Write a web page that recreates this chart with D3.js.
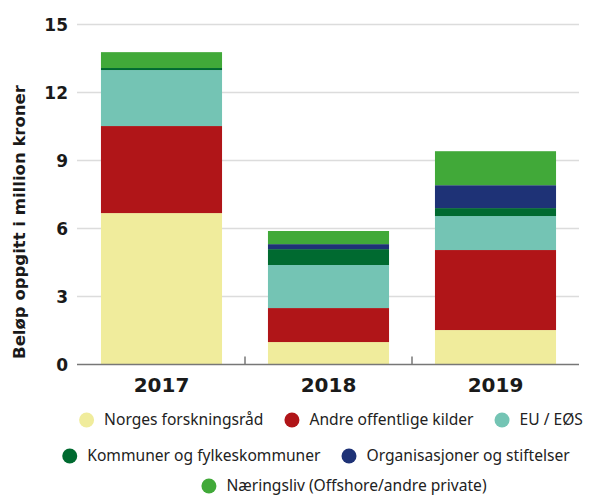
<!DOCTYPE html>
<html>
<head>
<meta charset="utf-8">
<script src="https://cdn.jsdelivr.net/npm/d3@7"></script>
<style>
  body { margin: 0; background: #fff; }
  text { font-family: "Noto Sans", "Open Sans", sans-serif; }
  .bold { font-family: "DejaVu Sans", "Noto Sans", sans-serif; font-weight: bold; }
</style>
</head>
<body>
<div id="chart"></div>
<script>
var years = ["2017", "2018", "2019"];
var seriesNames = ["Norges forskningsråd", "Andre offentlige kilder", "EU / EØS",
                   "Kommuner og fylkeskommuner", "Organisasjoner og stiftelser",
                   "Næringsliv (Offshore/andre private)"];
var forskningsraad = [6.68, 0.99, 1.52];
var offentlige     = [3.84, 1.50, 3.53];
var euEos          = [2.47, 1.90, 1.50];
var kommuner       = [0.09, 0.70, 0.35];
var organisasjoner = [0.00, 0.22, 1.01];
var naeringsliv    = [0.70, 0.58, 1.50];
var yTicks = [0, 3, 6, 9, 12, 15];
var colors = ["#f0ec9c", "#b01518", "#74c4b4", "#006a30", "#1e3276", "#41a939"];

var allSeries = [forskningsraad, offentlige, euEos, kommuner, organisasjoner, naeringsliv];

var width = 590, height = 497,
    margin = {top: 24.5, left: 77, bottom: 132.5, right: 11};

var svg = d3.select("#chart").append("svg")
    .attr("width", width)
    .attr("height", height);

var rows = years.map(function (y, i) {
    var r = {year: y};
    seriesNames.forEach(function (s, j) { r[s] = allSeries[j][i]; });
    return r;
});
var stacked = d3.stack().keys(seriesNames)(rows);

var x = d3.scaleBand()
    .domain(years)
    .range([margin.left + 1, width - margin.right])
    .paddingInner(0.275)
    .paddingOuter(0.1375);

var y = d3.scaleLinear()
    .domain([0, 15])
    .range([height - margin.bottom, margin.top]);

// gridlines
svg.selectAll(".grid")
    .data(yTicks.slice(1))
    .enter()
    .append("line")
    .attr("x1", margin.left)
    .attr("x2", width - margin.right)
    .attr("y1", function (d) { return y(d); })
    .attr("y2", function (d) { return y(d); })
    .attr("stroke", "#dcdcdc")
    .attr("stroke-width", 1.5);

// bars
svg.selectAll(".layer")
    .data(stacked)
    .enter()
    .append("g")
    .attr("fill", function (d, i) { return colors[i]; })
    .selectAll("rect")
    .data(function (d) { return d; })
    .enter()
    .append("rect")
    .attr("x", function (d) { return x(d.data.year); })
    .attr("width", x.bandwidth())
    .attr("y", function (d) { return y(d[1]); })
    .attr("height", function (d) { return y(d[0]) - y(d[1]); });

// baseline with ticks between bands
svg.append("line")
    .attr("x1", margin.left)
    .attr("x2", width - margin.right)
    .attr("y1", y(0))
    .attr("y2", y(0))
    .attr("stroke", "#777")
    .attr("stroke-width", 1.5);

var step = x.step();
svg.selectAll(".xTick")
    .data(years.slice(1))
    .enter()
    .append("line")
    .attr("x1", function (d) { return x(d) - step * x.paddingInner() / 2; })
    .attr("x2", function (d) { return x(d) - step * x.paddingInner() / 2; })
    .attr("y1", y(0))
    .attr("y2", y(0) - 8)
    .attr("stroke", "#777")
    .attr("stroke-width", 1.5);

// y tick labels
svg.selectAll(".yLabel")
    .data(yTicks)
    .enter()
    .append("text")
    .attr("class", "bold")
    .text(function (d) { return d; })
    .attr("x", 68)
    .attr("y", function (d) { return y(d) + 6; })
    .attr("text-anchor", "end")
    .attr("font-size", 17)
    .attr("fill", "#1a1a1a");

// x labels
svg.selectAll(".xLabel")
    .data(years)
    .enter()
    .append("text")
    .attr("class", "bold")
    .text(function (d) { return d; })
    .attr("x", function (d) { return x(d) + x.bandwidth() / 2; })
    .attr("y", 392)
    .attr("text-anchor", "middle")
    .attr("font-size", 20)
    .attr("fill", "#1a1a1a");

// y axis title
svg.append("text")
    .attr("class", "bold")
    .text("Beløp oppgitt i million kroner")
    .attr("transform", "translate(25," + 222 + ") rotate(-90)")
    .attr("text-anchor", "middle")
    .attr("font-size", 16.5)
    .attr("fill", "#1a1a1a");

// legend
var legendRows = [[0, 1, 2], [3, 4], [5]],
    legendY = [420, 456, 486],
    legendCx = [331, 316, 344],
    r = 7.5, gapText = 10, gapItem = 21;

legendRows.forEach(function (row, ri) {
    var g = svg.append("g");
    var cursor = 0;
    row.forEach(function (si, k) {
        if (k > 0) cursor += gapItem;
        g.append("circle")
            .attr("cx", cursor + r)
            .attr("cy", 0)
            .attr("r", r)
            .attr("fill", colors[si]);
        var t = g.append("text")
            .text(seriesNames[si])
            .attr("x", cursor + 2 * r + gapText)
            .attr("y", 5)
            .attr("font-size", 15.6)
            .attr("fill", "#222");
        cursor += 2 * r + gapText + t.node().getComputedTextLength();
    });
    var off = legendCx[ri] - cursor / 2;
    g.attr("transform", "translate(" + off + "," + legendY[ri] + ")");
});
</script>
</body>
</html>
